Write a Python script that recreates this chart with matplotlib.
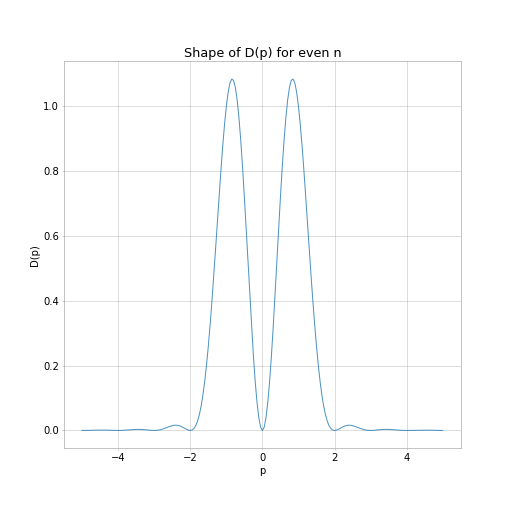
import numpy as np
import matplotlib
matplotlib.use('Agg')
import matplotlib.pyplot as plt


# momentum values and the distribution
p_vals = [
    -5.0, -4.9, -4.8, -4.7, -4.6, -4.5, -4.4, -4.3, -4.2, -4.1,
    -4.0, -3.9, -3.8, -3.7, -3.6, -3.5, -3.4, -3.3, -3.2, -3.1,
    -3.0, -2.95, -2.9, -2.85, -2.8, -2.75, -2.7, -2.65, -2.6, -2.55,
    -2.5, -2.45, -2.4, -2.35, -2.3, -2.25, -2.2, -2.15, -2.1, -2.05,
    -2.0, -1.95, -1.9, -1.85, -1.8, -1.75, -1.7, -1.65, -1.6, -1.55,
    -1.5, -1.45, -1.4, -1.35, -1.3, -1.25, -1.2, -1.15, -1.1, -1.05,
    -1.0, -0.95, -0.9, -0.85, -0.8, -0.75, -0.7, -0.65, -0.6, -0.55,
    -0.5, -0.45, -0.4, -0.35, -0.3, -0.25, -0.2, -0.15, -0.1, -0.05,
    0.0,
    0.05, 0.1, 0.15, 0.2, 0.25, 0.3, 0.35, 0.4, 0.45, 0.5,
    0.55, 0.6, 0.65, 0.7, 0.75, 0.8, 0.85, 0.9, 0.95, 1.0,
    1.05, 1.1, 1.15, 1.2, 1.25, 1.3, 1.35, 1.4, 1.45, 1.5,
    1.55, 1.6, 1.65, 1.7, 1.75, 1.8, 1.85, 1.9, 1.95, 2.0,
    2.05, 2.1, 2.15, 2.2, 2.25, 2.3, 2.35, 2.4, 2.45, 2.5,
    2.55, 2.6, 2.65, 2.7, 2.75, 2.8, 2.85, 2.9, 2.95, 3.0,
    3.1, 3.2, 3.3, 3.4, 3.5, 3.6, 3.7, 3.8, 3.9, 4.0,
    4.1, 4.2, 4.3, 4.4, 4.5, 4.6, 4.7, 4.8, 4.9, 5.0,
]

D_vals = [
    0.0, 0.0001, 0.0003, 0.0006, 0.0009, 0.0011, 0.0011, 0.0009, 0.0005, 0.0002,
    0.0, 0.0002, 0.0008, 0.0016, 0.0026, 0.0032, 0.0033, 0.0027, 0.0016, 0.0005,
    0.0, 0.0002, 0.0007, 0.0016, 0.0030, 0.0047, 0.0067, 0.0089, 0.0110, 0.0131,
    0.0147, 0.0158, 0.0162, 0.0157, 0.0144, 0.0123, 0.0095, 0.0064, 0.0033, 0.0010,
    0.0, 0.0013, 0.0057, 0.0142, 0.0279, 0.0476, 0.0743, 0.1084, 0.1506, 0.2010,
    0.2594, 0.3253, 0.3978, 0.4756, 0.5572, 0.6405, 0.7233, 0.8031, 0.8776, 0.9440,
    1.0000, 1.0434, 1.0721, 1.0847, 1.0804, 1.0587, 1.0198, 0.9648, 0.8950, 0.8127,
    0.7205, 0.6216, 0.5195, 0.4179, 0.3203, 0.2306, 0.1519, 0.0874, 0.0395, 0.0100,
    0.0,
    0.0100, 0.0395, 0.0874, 0.1519, 0.2306, 0.3203, 0.4179, 0.5195, 0.6216, 0.7205,
    0.8127, 0.8950, 0.9648, 1.0198, 1.0587, 1.0804, 1.0847, 1.0721, 1.0434, 1.0000,
    0.9440, 0.8776, 0.8031, 0.7233, 0.6405, 0.5572, 0.4756, 0.3978, 0.3253, 0.2594,
    0.2010, 0.1506, 0.1084, 0.0743, 0.0476, 0.0279, 0.0142, 0.0057, 0.0013, 0.0,
    0.0010, 0.0033, 0.0064, 0.0095, 0.0123, 0.0144, 0.0157, 0.0162, 0.0158, 0.0147,
    0.0131, 0.0110, 0.0089, 0.0067, 0.0047, 0.0030, 0.0016, 0.0007, 0.0002, 0.0,
    0.0005, 0.0016, 0.0027, 0.0033, 0.0032, 0.0026, 0.0016, 0.0008, 0.0002, 0.0,
    0.0002, 0.0005, 0.0009, 0.0011, 0.0011, 0.0009, 0.0006, 0.0003, 0.0001, 0.0,
]


plt.rcParams['font.size'] = 14

fig = plt.figure(figsize=(10, 10), dpi=51.2)
plt.subplots_adjust(bottom=0.125)

plt.plot(p_vals, D_vals, color='#1f77b4', alpha=0.8, linewidth=1.4)
plt.title('Shape of D(p) for even n', fontsize=18)
plt.xlabel('p')
plt.ylabel('D(p)')
plt.grid(True, color='#b0b0b0', alpha=0.6, linewidth=1.0)

ax = plt.gca()
for spine in ax.spines.values():
    spine.set_color('#999999')
ax.tick_params(color='#b0b0b0')

plt.savefig('out.png', dpi=51.2)
